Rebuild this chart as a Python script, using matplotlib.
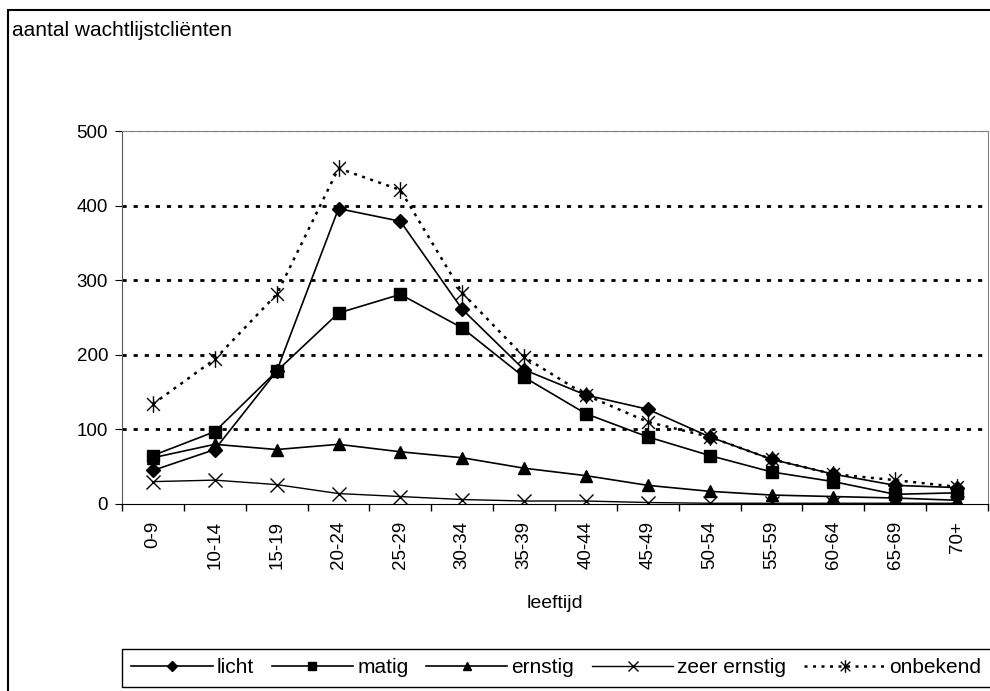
import numpy as np
import matplotlib
matplotlib.use('Agg')
from matplotlib import pyplot as plt
from matplotlib.path import Path
from matplotlib.patches import Rectangle

plt.rcParams['font.family'] = ['Liberation Sans', 'DejaVu Sans']

leeftijd = ['0-9', '10-14', '15-19', '20-24', '25-29', '30-34', '35-39',
            '40-44', '45-49', '50-54', '55-59', '60-64', '65-69', '70+']
licht = [45, 73, 178, 396, 379, 261, 180, 146, 127, 90, 60, 40, 25, 22]
matig = [65, 97, 178, 256, 281, 236, 170, 121, 90, 65, 43, 30, 13, 15]
ernstig = [62, 80, 73, 80, 70, 62, 48, 38, 25, 17, 12, 10, 8, 5]
zeer_ernstig = [30, 32, 26, 14, 10, 6, 4, 4, 2, 1, 1, 1, 1, 1]
onbekend = [134, 194, 281, 450, 421, 283, 197, 146, 110, 90, 60, 40, 32, 23]

# star marker: x with a vertical bar
star = Path([(-1, -1), (1, 1), (-1, 1), (1, -1), (0, -1.3), (0, 1.3)],
            [Path.MOVETO, Path.LINETO, Path.MOVETO, Path.LINETO,
             Path.MOVETO, Path.LINETO])

fig = plt.figure(figsize=(9.9, 6.91), dpi=100)
ax = fig.add_axes([122 / 990, 1 - 504 / 691, 866 / 990, 373 / 691])

x = np.arange(len(leeftijd))
ax.plot(x, licht, color='black', lw=1.2, marker='D', ms=7, label='licht')
ax.plot(x, matig, color='black', lw=1.2, marker='s', ms=8, label='matig')
ax.plot(x, ernstig, color='black', lw=1.2, marker='^', ms=8, label='ernstig')
ax.plot(x, zeer_ernstig, color='black', lw=1.0, marker='x', ms=10, mew=1.0,
        label='zeer ernstig')
ax.plot(x, onbekend, color='black', lw=1.8, ls=(0, (1.2, 2.2)), marker=star,
        ms=12, mew=1.0, label='onbekend')

ax.set_xlim(-0.5, len(leeftijd) - 0.5)
ax.set_ylim(0, 500)
ax.set_yticks([0, 100, 200, 300, 400, 500])
ax.set_xticks(x)
ax.set_xticklabels(leeftijd, rotation=90, fontsize=13.5)
ax.set_xticks(np.arange(len(leeftijd) + 1) - 0.5, minor=True)
ax.tick_params(axis='x', which='major', length=0, pad=12)
ax.tick_params(axis='x', which='minor', length=5, direction='out', width=1)
ax.tick_params(axis='y', length=5, direction='out', labelsize=13.5, pad=5)
ax.set_xlabel('leeftijd', fontsize=14, labelpad=19)

for v in [100, 200, 300, 400]:
    ax.axhline(v, color='black', lw=2, ls=(0, (1.5, 2.5)), zorder=0)
ax.axhline(500, color='black', lw=1.5, ls=(0, (1.5, 2.5)), zorder=0)

for side in ['top', 'right']:
    ax.spines[side].set_color('gray')
ax.spines['left'].set_color('#555555')
ax.spines['bottom'].set_color('black')

fig.patches.append(Rectangle((8 / 990, -0.1), 1.2, 1 - 10 / 691 + 0.1,
                             transform=fig.transFigure, fill=False,
                             edgecolor='black', lw=1.5))
fig.text(12 / 990, 1 - 30 / 691, 'aantal wachtlijstcliënten', fontsize=15,
         va='center', ha='left')

leg = fig.legend(loc='upper left', bbox_to_anchor=(122 / 990, 1 - 649 / 691),
                 borderaxespad=0, ncol=5, fontsize=15, handlelength=3.9,
                 handletextpad=0.2, columnspacing=0.85, markerscale=0.75,
                 fancybox=False, edgecolor='black', framealpha=1,
                 borderpad=0.45)
leg.get_frame().set_linewidth(1.0)

fig.savefig('out.png', dpi=100)
